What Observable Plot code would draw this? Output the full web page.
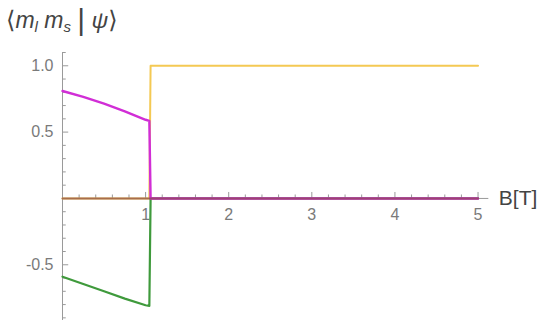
<!DOCTYPE html>
<html>
<head>
<meta charset="utf-8">
<script src="https://cdn.jsdelivr.net/npm/d3@7"></script>
<script src="https://cdn.jsdelivr.net/npm/@observablehq/plot@0.6"></script>
<style>
  html, body { margin: 0; padding: 0; background: #fff; }
  #wrap { position: relative; width: 540px; height: 323px; font-family: "Liberation Sans", Arial, sans-serif; }
  #ylabel { position: absolute; left: 6px; top: 3px; font-size: 23px; color: #444; white-space: nowrap; }
  #ylabel i { font-style: italic; }
  #ylabel sub { font-size: 15px; vertical-align: -4px; }
  #ylabel .br { font-family: "DejaVu Sans", sans-serif; font-size: 24px; }
  #ylabel .bar { font-size: 30px; vertical-align: -2px; font-weight: 300; }
</style>
</head>
<body>
<div id="wrap">
  <div id="ylabel"><span class="br">⟨</span><i>m</i><sub><i>l</i></sub> <i>m</i><sub><i>s</i></sub> <span class="bar">|</span> <i>ψ</i><span class="br">⟩</span></div>
</div>
<script>
// Field values (tesla) at which the amplitudes are sampled; the level crossing sits near 1.05 T
const fieldB = [0, 0.25, 0.5, 0.75, 1.0, 1.045, 1.06, 2, 3, 4, 5];

// Amplitudes of the ground state on each basis state
const ampMagenta = [0.81, 0.765, 0.714, 0.656, 0.593, 0.585, 0, 0, 0, 0, 0];
const ampGreen   = [-0.59, -0.645, -0.70, -0.755, -0.805, -0.81, 0, 0, 0, 0, 0];
const ampYellow  = [0, 0, 0, 0, 0, 0, 1, 1, 1, 1, 1];
const ampZero    = [0, 0, 0, 0, 0, 0, 0, 0, 0, 0, 0];

// Axis tick labels
const xTickLabels = [1, 2, 3, 4, 5];
const yTickLabels = [1.0, 0.5, -0.5];

const series = [
  {name: "yellow", values: ampYellow, color: "#f3c64a", width: 2, opacity: 0.95},
  {name: "green", values: ampGreen, color: "#3f9a3c", width: 2.2, opacity: 1},
  {name: "magenta", values: ampMagenta, color: "#d12ed6", width: 2.4, opacity: 1},
  {name: "zero", values: ampZero, color: "#8a4a4a", width: 2, opacity: 0.7}
];

const rows = series.flatMap(s => fieldB.map((b, i) => ({B: b, v: s.values[i], s: s.name})));

const xMinor = d3.range(1, 26).map(i => i * 0.2).filter(v => Math.abs(v - Math.round(v)) > 1e-6);
const yMinor = d3.range(-9, 12).map(i => i / 10).filter(v => Math.abs(v * 2 - Math.round(v * 2)) > 1e-6);
const yMajor = [-0.5, 0.5, 1.0];

const axisColor = "#9a9a9a";
const labelColor = "#7a7a7a";

const chart = Plot.plot({
  width: 540,
  height: 323,
  marginLeft: 62,
  marginRight: 50,
  marginTop: 52,
  marginBottom: 3,
  x: {domain: [0, 5.15], axis: null},
  y: {domain: [-0.92, 1.1], axis: null},
  style: {fontFamily: "Liberation Sans, Arial, sans-serif", background: "#fff"},
  marks: [
    // axes through the origin
    Plot.ruleX([0], {y1: -0.92, y2: 1.1, stroke: axisColor, strokeWidth: 1}),
    Plot.ruleY([0], {x1: 0, x2: 5.13, stroke: axisColor, strokeWidth: 1}),
    // x ticks pointing up from the axis
    Plot.ruleX(xTickLabels, {x: d => d, y1: 0, y2: 0.045, stroke: axisColor}),
    Plot.ruleX(xMinor, {x: d => d, y1: 0, y2: 0.026, stroke: axisColor}),
    // y ticks pointing right from the axis
    Plot.ruleY(yMajor, {y: d => d, x1: 0, x2: 0.075, stroke: axisColor}),
    Plot.ruleY(yMinor, {y: d => d, x1: 0, x2: 0.045, stroke: axisColor}),
    // tick labels
    Plot.text(xTickLabels, {x: d => d, y: 0, dy: 16, text: d => String(d), fill: labelColor, fontSize: 16}),
    Plot.text(yTickLabels, {x: 0, y: d => d, dx: -9, textAnchor: "end", text: d => (d < 0 ? "-" : "") + Math.abs(d).toFixed(1), fill: labelColor, fontSize: 16}),
    Plot.text(["B[T]"], {x: 5.13, y: 0, dx: 10, textAnchor: "start", fill: "#444", fontSize: 21}),
    // amplitude curves
    ...series.map(s => Plot.line(rows.filter(r => r.s === s.name), {
      x: "B", y: "v", stroke: s.color, strokeWidth: s.width, strokeOpacity: s.opacity
    }))
  ]
});

document.getElementById("wrap").prepend(chart);
chart.style.position = "absolute";
chart.style.left = "0";
chart.style.top = "0";
document.getElementById("ylabel").style.zIndex = 2;
</script>
</body>
</html>
